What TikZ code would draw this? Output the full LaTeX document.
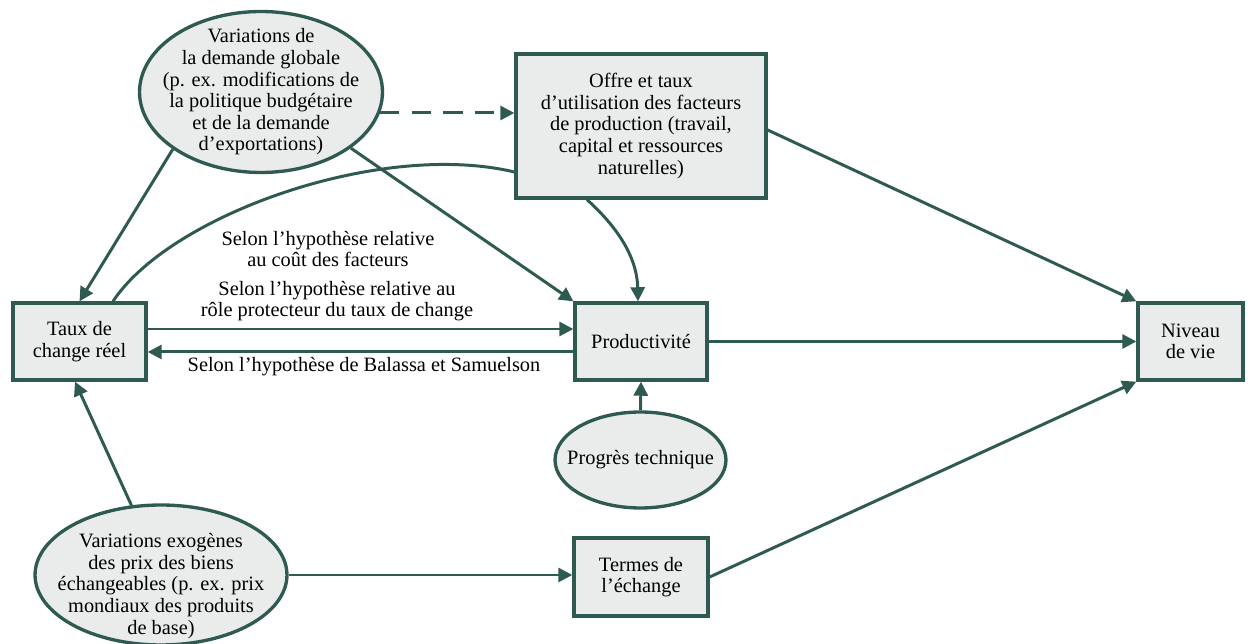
\documentclass[tikz,border=0pt]{standalone}
\usepackage{fontspec}
\setmainfont{Liberation Serif}
\usetikzlibrary{shapes.geometric,arrows.meta,calc}
\definecolor{ink}{HTML}{2F5A51}
\definecolor{paper}{HTML}{E9ECEB}
\tikzset{
  every node/.style={font=\fontsize{11.6}{12.3}\selectfont, align=center, text=black},
  boxnode/.style={draw=ink, fill=paper, line width=1.9pt, rectangle, inner sep=0pt},
  ovalnode/.style={draw=ink, fill=paper, line width=1.9pt, ellipse, inner sep=0pt},
  conn/.style={draw=ink, line width=1.7pt, -{Triangle[length=8pt,width=8pt]}},
  plainconn/.style={draw=ink, line width=1.7pt},
  lbl/.style={inner sep=0pt}
}
\begin{document}
\begin{tikzpicture}[x=0.02cm, y=-0.02cm]
\useasboundingbox (0,0) rectangle (1259,644);

\node[ovalnode, minimum width=4.86cm, minimum height=3.22cm] (dem) at (261,92) {};
\node[lbl] (demt) at (dem.center)
  {Variations de\\la demande globale\\(p. ex. modifications de\\la politique budgétaire\\et de la demande\\d’exportations)};
\node[boxnode, minimum width=5cm, minimum height=2.88cm] (offre) at (641,126)
  {Offre et taux\\d’utilisation des facteurs\\de production (travail,\\capital et ressources\\naturelles)};
\node[boxnode, minimum width=2.66cm, minimum height=1.54cm] (taux) at (79.5,341.5)
  {Taux de\\change réel};
\node[boxnode, minimum width=2.64cm, minimum height=1.54cm] (prod) at (641,341.5)
  {Productivité};
\node[boxnode, minimum width=2.1cm, minimum height=1.54cm] (niv) at (1190.5,341.5)
  {Niveau\\de vie};
\node[ovalnode, minimum width=3.42cm, minimum height=1.92cm] (prog) at (640.5,460) {};
\node[lbl] (progt) at (prog.center) {Progrès technique};
\node[boxnode, minimum width=2.68cm, minimum height=1.56cm] (term) at (641,577)
  {Termes de\\l’échange};
\node[ovalnode, minimum width=5.04cm, minimum height=2.8cm] (exog) at (161,575) {};
\node[lbl] (exogt) at (161,586)
  {Variations exogènes\\des prix des biens\\échangeables (p. ex. prix\\mondiaux des produits\\de base)};

\node[lbl] (l1) at (328,249) {Selon l’hypothèse relative\\au coût des facteurs};
\node[lbl] (l2) at (337,301) {Selon l’hypothèse relative au\\rôle protecteur du taux de change};
\node[lbl] (l3) at (364,367) {Selon l’hypothèse de Balassa et Samuelson};

\draw[conn, dash pattern=on 11pt off 7pt] (dem.-10) -- (dem.-10 -| offre.west);
\draw[conn] (dem.213) -- (taux.north);
\draw[conn] (dem.-32.5) -- (prod.north west);
\draw[plainconn] ([xshift=0.67cm]taux.north) .. controls (170,215) and (380,140) .. ([yshift=-0.92cm]offre.west);
\draw[conn] ([xshift=-1.08cm]offre.south) .. controls (615,225) and (637,255) .. ([xshift=-0.06cm]prod.north);
\draw[conn] ([yshift=-0.08cm]offre.east) -- (niv.north west);
\draw[conn] ([yshift=0.25cm]taux.east) -- ([yshift=0.25cm]prod.west);
\draw[conn] ([yshift=-0.21cm]prod.west) -- ([yshift=-0.21cm]taux.east);
\draw[conn] (prod.east) -- (niv.west);
\draw[conn] (prog.north) -- (prod.south);
\draw[conn] (exog.113.5) -- ([xshift=-0.09cm]taux.south);
\draw[conn] (exog.east) -- (exog.east -| term.west);
\draw[conn] (term.east) -- (niv.south west);
\end{tikzpicture}
\end{document}
